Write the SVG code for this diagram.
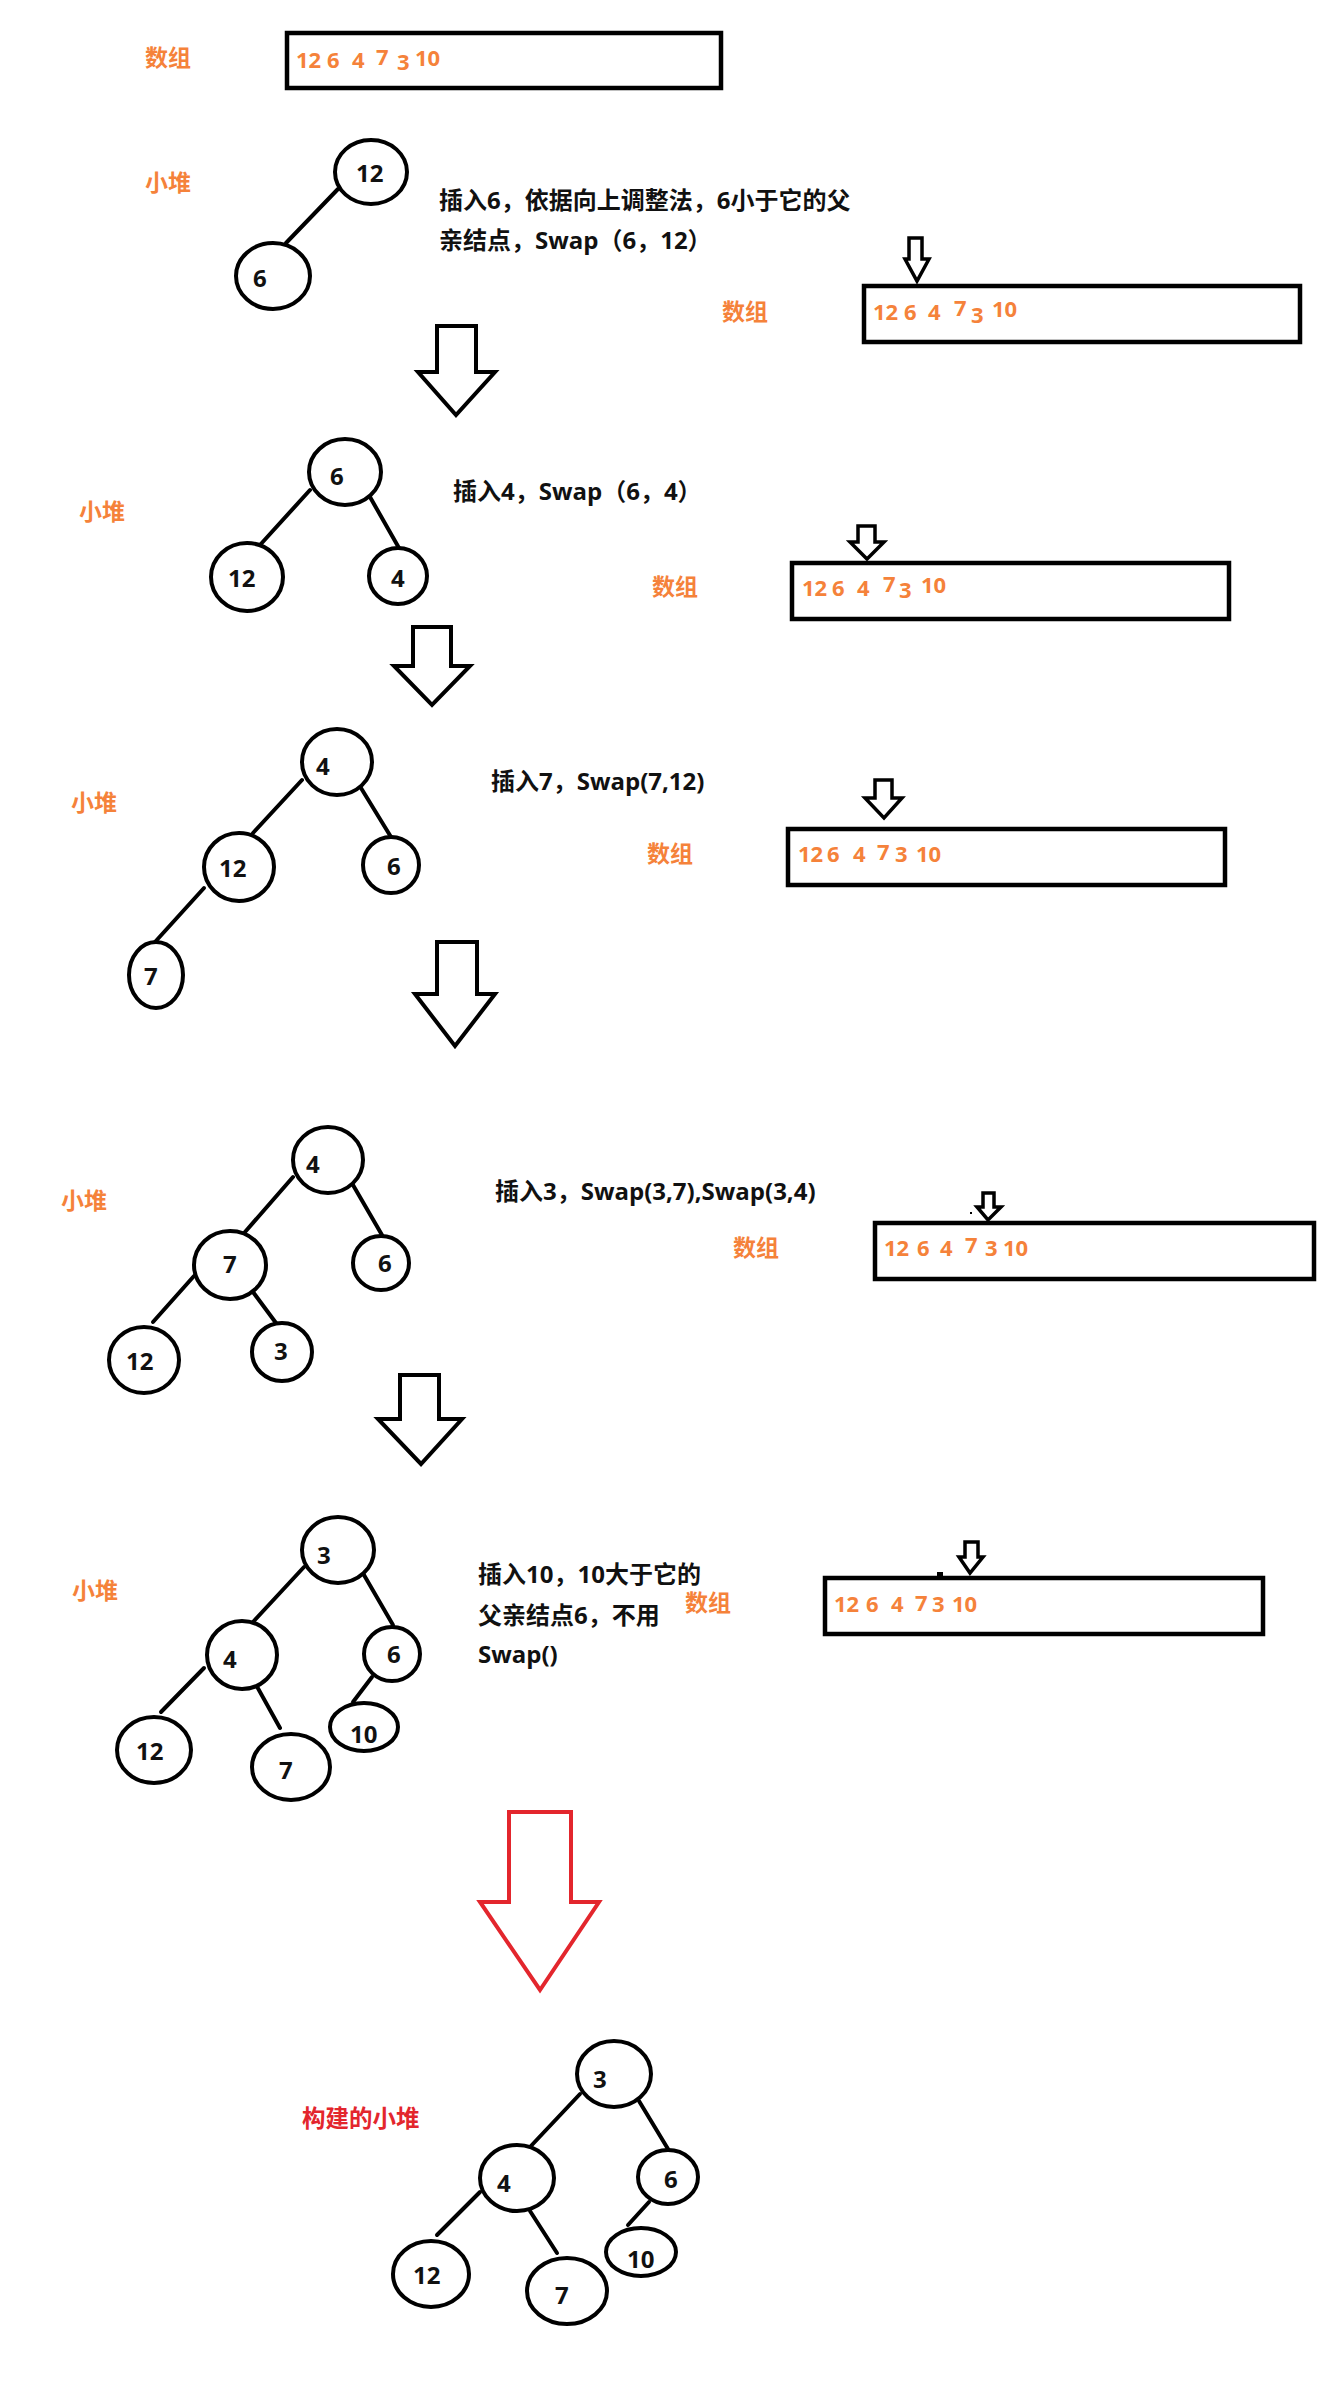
<svg xmlns="http://www.w3.org/2000/svg" width="1332" height="2395" viewBox="0 0 1332 2395">
<style>
.bg{fill:#ffffff}
.box{fill:none;stroke:#000;stroke-width:4.5}
.node{fill:#fff;stroke:#000;stroke-width:4}
.edge{stroke:#000;stroke-width:4;stroke-linecap:round}
.arr{fill:#fff;stroke:#000;stroke-width:4;stroke-linejoin:miter}
.sarr{fill:#fff;stroke:#000;stroke-width:3.5;stroke-linejoin:miter}
.rarr{fill:#fff;stroke:#e3262d;stroke-width:4;stroke-linejoin:miter}
.lbl{font-family:"Open Sans","Noto Sans CJK SC",sans-serif;font-weight:700;font-size:24px;fill:#111}
.note{font-family:"Open Sans","Noto Sans CJK SC",sans-serif;font-weight:700;font-size:24px;fill:#111}
.or{font-family:"Noto Sans CJK SC",sans-serif;font-weight:700;font-size:23px;fill:#f5823a}
.dig{font-family:"Open Sans","Noto Sans CJK SC",sans-serif;font-weight:700;font-size:22px;fill:#f5823a}
.red{font-family:"Noto Sans CJK SC",sans-serif;font-weight:700;font-size:23.5px;fill:#e3262d}
</style>
<rect class="bg" x="0" y="0" width="1332" height="2395"/>

<!-- arrays -->
<g id="array1">
<text class="or" x="145" y="66">数组</text>
<rect class="box" x="287" y="33" width="434" height="55"/>
<text class="dig"><tspan x="296" y="68">12</tspan><tspan x="327" y="68">6</tspan><tspan x="352" y="68">4</tspan><tspan x="376" y="65">7</tspan><tspan x="397" y="70">3</tspan><tspan x="415" y="66">10</tspan></text>
</g>
<g id="array2">
<text class="or" x="722" y="320">数组</text>
<rect class="box" x="864" y="286" width="436" height="56"/>
<text class="dig"><tspan x="873" y="320">12</tspan><tspan x="904" y="320">6</tspan><tspan x="928" y="320">4</tspan><tspan x="954" y="316">7</tspan><tspan x="971" y="323">3</tspan><tspan x="992" y="317">10</tspan></text>
<path class="sarr" d="M909,238 L922,238 L922,259 L929,259 L917,281 L905,259 L909,259 Z"/>
</g>
<g id="array3">
<text class="or" x="652" y="595">数组</text>
<rect class="box" x="792" y="563" width="437" height="56"/>
<text class="dig"><tspan x="802" y="596">12</tspan><tspan x="832" y="596">6</tspan><tspan x="857" y="596">4</tspan><tspan x="883" y="592">7</tspan><tspan x="899" y="598">3</tspan><tspan x="921" y="593">10</tspan></text>
<path class="sarr" d="M858,526 L875,526 L875,542 L884,542 L867,559 L850,542 L858,542 Z"/>
</g>
<g id="array4">
<text class="or" x="647" y="862">数组</text>
<rect class="box" x="788" y="829" width="437" height="56"/>
<text class="dig"><tspan x="798" y="862">12</tspan><tspan x="827" y="862">6</tspan><tspan x="853" y="862">4</tspan><tspan x="877" y="860">7</tspan><tspan x="895" y="862">3</tspan><tspan x="916" y="862">10</tspan></text>
<path class="sarr" d="M875,780 L892,780 L892,798 L902,798 L884,818 L865,798 L875,798 Z"/>
</g>
<g id="array5">
<text class="or" x="733" y="1256">数组</text>
<rect class="box" x="875" y="1223" width="439" height="56"/>
<text class="dig"><tspan x="884" y="1256">12</tspan><tspan x="917" y="1256">6</tspan><tspan x="940" y="1256">4</tspan><tspan x="965" y="1253">7</tspan><tspan x="985" y="1256">3</tspan><tspan x="1003" y="1256">10</tspan></text>
<path class="sarr" d="M983,1193 L994,1193 L994,1207 L1001,1207 L988,1220 L977,1207 L983,1207 Z"/>
<rect x="970" y="1212" width="2" height="2" fill="#000"/>
</g>
<g id="array6">
<text class="or" x="685" y="1611">数组</text>
<rect class="box" x="825" y="1578" width="438" height="56"/>
<text class="dig"><tspan x="834" y="1612">12</tspan><tspan x="866" y="1612">6</tspan><tspan x="891" y="1612">4</tspan><tspan x="915" y="1611">7</tspan><tspan x="932" y="1612">3</tspan><tspan x="952" y="1612">10</tspan></text>
<path class="sarr" d="M965,1542 L978,1542 L978,1557 L983,1557 L970,1573 L959,1557 L965,1557 Z"/>
<rect x="937" y="1572" width="6" height="4" fill="#000"/>
</g>

<!-- big arrows -->
<g id="bigarrows">
<path class="arr" d="M437,326 L476,326 L476,372 L495,372 L456,415 L418,372 L437,372 Z"/>
<path class="arr" d="M413,627 L451,627 L451,666 L470,666 L432,705 L394,666 L413,666 Z"/>
<path class="arr" d="M437,942 L477,942 L477,994 L495,994 L455,1046 L415,994 L437,994 Z"/>
<path class="arr" d="M400,1375 L439,1375 L439,1419 L462,1419 L421,1464 L378,1419 L400,1419 Z"/>
<path class="rarr" d="M509,1812 L571,1812 L571,1902 L599,1902 L540,1990 L480,1902 L509,1902 Z"/>
</g>

<!-- labels -->
<g id="labels">
<text class="or" x="145" y="191">小堆</text>
<text class="or" x="79" y="520">小堆</text>
<text class="or" x="71" y="811">小堆</text>
<text class="or" x="61" y="1209">小堆</text>
<text class="or" x="72" y="1599">小堆</text>
<text class="red" x="302" y="2127">构建的小堆</text>
<text class="note" x="439" y="209">插入6，依据向上调整法，6小于它的父</text>
<text class="note" x="439" y="249">亲结点，Swap（6，12）</text>
<text class="note" x="453" y="500">插入4，Swap（6，4）</text>
<text class="note" x="491" y="790">插入7，Swap(7,12)</text>
<text class="note" x="495" y="1200">插入3，Swap(3,7),Swap(3,4)</text>
<text class="note" x="478" y="1583">插入10，10大于它的</text>
<text class="note" x="478" y="1624">父亲结点6，不用</text>
<text class="note" x="478" y="1663">Swap()</text>
</g>

<!-- connectors -->
<g id="connectors">
<line class="edge" x1="338" y1="189" x2="286" y2="243"/>
<line class="edge" x1="310" y1="490" x2="260" y2="545"/>
<line class="edge" x1="370" y1="497" x2="399" y2="548"/>
<line class="edge" x1="302" y1="780" x2="253" y2="833"/>
<line class="edge" x1="361" y1="788" x2="391" y2="837"/>
<line class="edge" x1="204" y1="888" x2="155" y2="942"/>
<line class="edge" x1="293" y1="1177" x2="245" y2="1232"/>
<line class="edge" x1="353" y1="1185" x2="382" y2="1235"/>
<line class="edge" x1="194" y1="1276" x2="153" y2="1322"/>
<line class="edge" x1="253" y1="1292" x2="276" y2="1323"/>
<line class="edge" x1="304" y1="1567" x2="253" y2="1622"/>
<line class="edge" x1="364" y1="1575" x2="393" y2="1625"/>
<line class="edge" x1="204" y1="1668" x2="161" y2="1712"/>
<line class="edge" x1="255" y1="1683" x2="280" y2="1728"/>
<line class="edge" x1="372" y1="1677" x2="353" y2="1702"/>
<line class="edge" x1="580" y1="2094" x2="530" y2="2147"/>
<line class="edge" x1="639" y1="2101" x2="668" y2="2149"/>
<line class="edge" x1="480" y1="2192" x2="437" y2="2235"/>
<line class="edge" x1="530" y1="2211" x2="557" y2="2253"/>
<line class="edge" x1="649" y1="2202" x2="628" y2="2225"/>
</g>

<!-- tree 1 -->
<g id="t1-12"><ellipse class="node" cx="371" cy="172" rx="36" ry="32"/><text class="lbl" x="356" y="182">12</text></g>
<g id="t1-6"><ellipse class="node" cx="273" cy="276" rx="37" ry="33"/><text class="lbl" x="253" y="287">6</text></g>
<!-- tree 2 -->
<g id="t2-6"><ellipse class="node" cx="345" cy="472" rx="36" ry="33"/><text class="lbl" x="330" y="485">6</text></g>
<g id="t2-12"><ellipse class="node" cx="247" cy="577" rx="36" ry="34"/><text class="lbl" x="228" y="587">12</text></g>
<g id="t2-4"><ellipse class="node" cx="398" cy="576" rx="29" ry="28"/><text class="lbl" x="391" y="587">4</text></g>
<!-- tree 3 -->
<g id="t3-4"><ellipse class="node" cx="337" cy="762" rx="35" ry="33"/><text class="lbl" x="316" y="775">4</text></g>
<g id="t3-12"><ellipse class="node" cx="239" cy="867" rx="35" ry="34"/><text class="lbl" x="219" y="877">12</text></g>
<g id="t3-6"><ellipse class="node" cx="391" cy="865" rx="28" ry="28"/><text class="lbl" x="387" y="875">6</text></g>
<g id="t3-7"><ellipse class="node" cx="156" cy="975" rx="27" ry="33"/><text class="lbl" x="144" y="985">7</text></g>
<!-- tree 4 -->
<g id="t4-4"><ellipse class="node" cx="328" cy="1160" rx="35" ry="33"/><text class="lbl" x="306" y="1173">4</text></g>
<g id="t4-7"><ellipse class="node" cx="230" cy="1265" rx="36" ry="34"/><text class="lbl" x="223" y="1273">7</text></g>
<g id="t4-6"><ellipse class="node" cx="381" cy="1263" rx="28" ry="27"/><text class="lbl" x="378" y="1272">6</text></g>
<g id="t4-12"><ellipse class="node" cx="144" cy="1360" rx="35" ry="33"/><text class="lbl" x="126" y="1370">12</text></g>
<g id="t4-3"><ellipse class="node" cx="282" cy="1352" rx="30" ry="29"/><text class="lbl" x="274" y="1360">3</text></g>
<!-- tree 5 -->
<g id="t5-3"><ellipse class="node" cx="338" cy="1550" rx="36" ry="33"/><text class="lbl" x="317" y="1564">3</text></g>
<g id="t5-4"><ellipse class="node" cx="242" cy="1655" rx="35" ry="34"/><text class="lbl" x="223" y="1668">4</text></g>
<g id="t5-6"><ellipse class="node" cx="392" cy="1654" rx="28" ry="27"/><text class="lbl" x="387" y="1663">6</text></g>
<g id="t5-12"><ellipse class="node" cx="154" cy="1750" rx="37" ry="33"/><text class="lbl" x="136" y="1760">12</text></g>
<g id="t5-7"><ellipse class="node" cx="291" cy="1767" rx="39" ry="33"/><text class="lbl" x="279" y="1779">7</text></g>
<g id="t5-10"><ellipse class="node" cx="364" cy="1727" rx="34" ry="24"/><text class="lbl" x="350" y="1743">10</text></g>
<!-- final tree -->
<g id="f-3"><ellipse class="node" cx="614" cy="2074" rx="37" ry="33"/><text class="lbl" x="593" y="2088">3</text></g>
<g id="f-4"><ellipse class="node" cx="517" cy="2178" rx="37" ry="33"/><text class="lbl" x="497" y="2192">4</text></g>
<g id="f-6"><ellipse class="node" cx="668" cy="2177" rx="30" ry="27"/><text class="lbl" x="664" y="2188">6</text></g>
<g id="f-12"><ellipse class="node" cx="431" cy="2274" rx="38" ry="33"/><text class="lbl" x="413" y="2284">12</text></g>
<g id="f-7"><ellipse class="node" cx="567" cy="2291" rx="40" ry="33"/><text class="lbl" x="555" y="2304">7</text></g>
<g id="f-10"><ellipse class="node" cx="641" cy="2252" rx="35" ry="24"/><text class="lbl" x="627" y="2268">10</text></g>
</svg>
